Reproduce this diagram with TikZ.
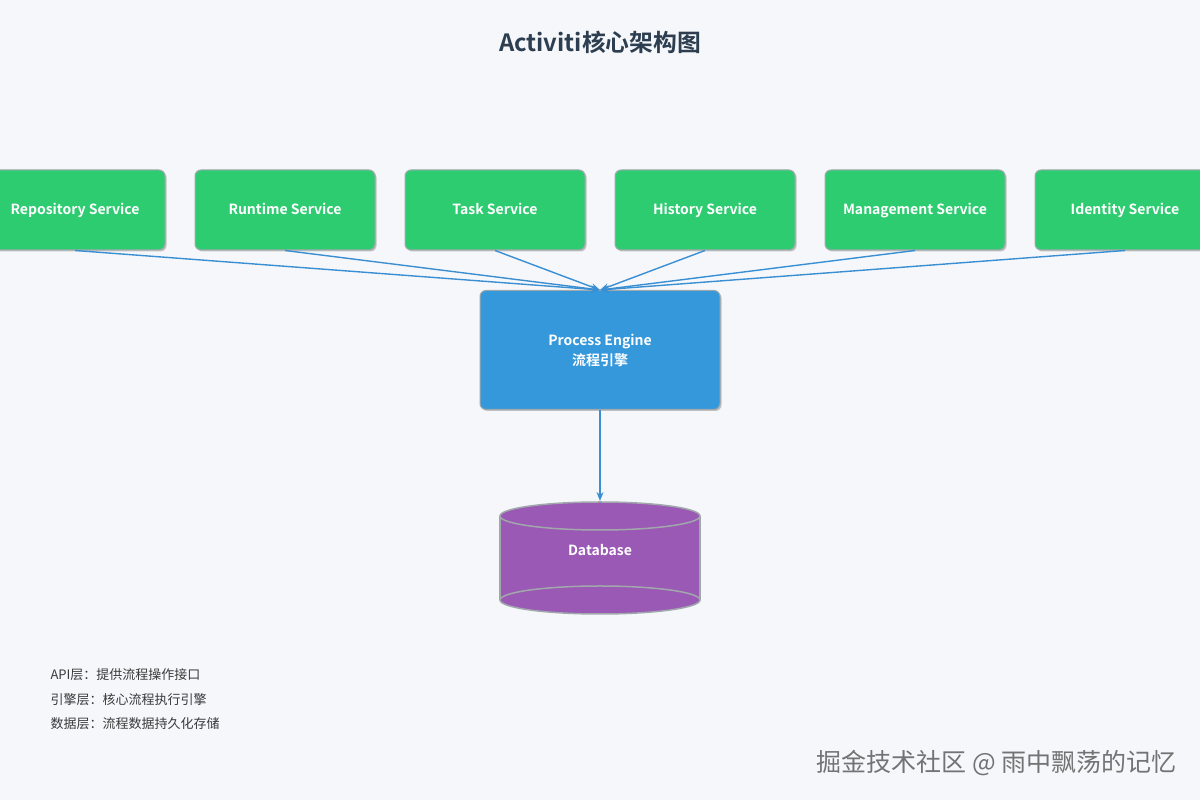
\documentclass[tikz,border=0pt]{standalone}
\usepackage{fontspec}
\setmainfont{Noto Sans CJK SC}[BoldFont={Noto Sans CJK SC Bold}]
\usepackage{tikz}
\usetikzlibrary{arrows.meta,shadows}
\definecolor{bgcol}{HTML}{F5F7FA}
\definecolor{svcgreen}{HTML}{2ECC71}
\definecolor{engblue}{HTML}{3498DB}
\definecolor{dbpurple}{HTML}{9B59B6}
\definecolor{titlecol}{HTML}{2C3E50}
\definecolor{edgecol}{HTML}{A0A8AC}
\definecolor{linkcol}{HTML}{3A8FD3}
\definecolor{notecol}{HTML}{3A3A3A}
\begin{document}
\begin{tikzpicture}[x=1pt,y=1pt,
	svc/.style={draw=edgecol,line width=1pt,fill=svcgreen,rounded corners=6pt,minimum width=180pt,minimum height=80pt,text=white,text height=13pt,text depth=3pt,font=\bfseries\fontsize{14}{16}\selectfont,drop shadow={shadow xshift=1.5pt,shadow yshift=-1.5pt,fill=black!45,opacity=0.5}},
	engine/.style={draw=edgecol,line width=1pt,fill=engblue,rounded corners=6pt,minimum width=240pt,minimum height=119pt,text=white,align=center,font=\bfseries\fontsize{14}{20}\selectfont,drop shadow={shadow xshift=1.5pt,shadow yshift=-1.5pt,fill=black!45,opacity=0.5}},
	link/.style={draw=linkcol,line width=1.4pt,-{Stealth[length=9pt,width=7pt]}},
	note/.style={anchor=west,text=notecol,font=\fontsize{13}{15}\selectfont}]
	\fill[bgcol] (0,0) rectangle (1200,800);
	\useasboundingbox (0,0) rectangle (1200,800);

	\node[text=titlecol,font=\bfseries\fontsize{23.8}{28}\selectfont] (title) at (600,758) {Activiti核心架构图};

	\node[svc] (repo) at (75,590) {Repository Service};
	\node[svc] (runtime) at (285,590) {Runtime Service};
	\node[svc] (task) at (495,590) {Task Service};
	\node[svc] (history) at (705,590) {History Service};
	\node[svc] (mgmt) at (915,590) {Management Service};
	\node[svc] (identity) at (1125,590) {Identity Service};

	\node[engine] (engine) at (600,450) {Process Engine\\流程引擎};

	\fill[dbpurple] (500,284) -- (500,200) arc[start angle=180,end angle=360,x radius=100,y radius=14] -- (700,284) arc[start angle=0,end angle=180,x radius=100,y radius=14] -- cycle;
	\draw[edgecol,line width=1.5pt] (500,284) -- (500,200);
	\draw[edgecol,line width=1.5pt] (700,284) -- (700,200);
	\draw[edgecol,line width=1.5pt] (600,284) ellipse[x radius=100,y radius=14];
	\draw[edgecol,line width=1.5pt] (600,200) ellipse[x radius=100,y radius=14];
	\node[text=white,font=\bfseries\fontsize{14}{16}\selectfont] (db) at (600,250) {Database};
	\coordinate (dbtop) at (600,299);

	\draw[link] (repo.south) -- (engine.north);
	\draw[link] (runtime.south) -- (engine.north);
	\draw[link] (task.south) -- (engine.north);
	\draw[link] (history.south) -- (engine.north);
	\draw[link] (mgmt.south) -- (engine.north);
	\draw[link] (identity.south) -- (engine.north);
	\draw[link] (engine.south) -- (dbtop);

	\node[note] (api) at (47,125) {API层：提供流程操作接口};
	\node[note] (eng) at (47,100) {引擎层：核心流程执行引擎};
	\node[note] (data) at (47,76) {数据层：流程数据持久化存储};

	\node[anchor=east,text=black!55,font=\fontsize{25}{28}\selectfont] (mark) at (1180,37) {掘金技术社区 @ 雨中飘荡的记忆};

\end{tikzpicture}
\end{document}
